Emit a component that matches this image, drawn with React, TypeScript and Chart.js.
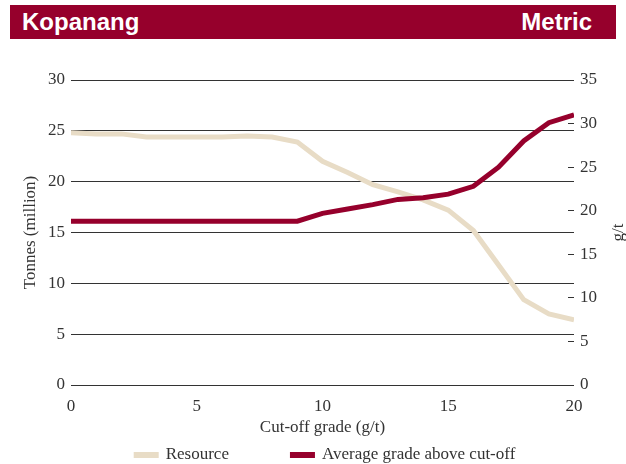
import React, { useEffect, useRef } from "react";
import { Chart, registerables } from "chart.js";

Chart.register(...registerables);

const cutOffGrades = [0, 1, 2, 3, 4, 5, 6, 7, 8, 9, 10, 11, 12, 13, 14, 15, 16, 17, 18, 19, 20];
const resourceMt = [24.8, 24.7, 24.7, 24.4, 24.4, 24.4, 24.4, 24.5, 24.4, 23.9, 22.0, 20.9, 19.7, 19.0, 18.2, 17.2, 15.2, 11.8, 8.4, 7.0, 6.4];
const avgGradeGt = [18.8, 18.8, 18.8, 18.8, 18.8, 18.8, 18.8, 18.8, 18.8, 18.8, 19.7, 20.2, 20.7, 21.3, 21.5, 21.9, 22.8, 25.0, 28.0, 30.1, 31.0];
const seriesLabels = ["Resource", "Average grade above cut-off"];
const seriesColors = ["#e8dcc6", "#96002c"];
const headerLeft = "Kopanang";
const headerRight = "Metric";
const xTitle = "Cut-off grade (g/t)";
const yTitle = "Tonnes (million)";
const y1Title = "g/t";
const xRange = [0, 20];
const yRange = [0, 30];
const y1Range = [0, 35];
const tickStep = 5;

const SERIF = "'Liberation Serif', 'Times New Roman', serif";
const TEXT = "#333333";
const GRID = "#333333";

const extrasPlugin = {
  id: "extras",
  afterDraw(chart: any) {
    const { ctx, chartArea } = chart;
    ctx.save();
    ctx.font = `17px ${SERIF}`;
    ctx.fillStyle = TEXT;
    // right axis title (reads bottom-to-top)
    ctx.save();
    ctx.translate(chart.scales.y1.right - 7, (chartArea.top + chartArea.bottom) / 2);
    ctx.rotate(-Math.PI / 2);
    ctx.textAlign = "center";
    ctx.textBaseline = "middle";
    ctx.fillText(y1Title, 0, 0);
    ctx.restore();
    // legend
    const ds = chart.data.datasets;
    const sw = 25;
    const textGap = 7;
    const itemGap = 61;
    const widths = ds.map((d: any) => sw + textGap + ctx.measureText(d.label).width);
    const total = widths.reduce((a: number, b: number) => a + b, 0) + itemGap * (ds.length - 1);
    let x = (chartArea.left + chartArea.right) / 2 + 2 - total / 2;
    const y = 455;
    ctx.textAlign = "left";
    ctx.textBaseline = "middle";
    ds.forEach((d: any, i: number) => {
      ctx.fillStyle = d.borderColor;
      ctx.fillRect(x, y - 3, sw, 6);
      ctx.fillStyle = TEXT;
      ctx.fillText(d.label, x + sw + textGap, y);
      x += widths[i] + itemGap;
    });
    ctx.restore();
  },
};

export default function App() {
  const ref = useRef<HTMLCanvasElement>(null);

  useEffect(() => {
    const font = { family: SERIF, size: 17 };
    const chart = new Chart(ref.current!, {
      type: "line",
      data: {
        datasets: [
          {
            label: seriesLabels[0],
            data: cutOffGrades.map((x, i) => ({ x, y: resourceMt[i] })),
            borderColor: seriesColors[0],
            backgroundColor: seriesColors[0],
            borderWidth: 5,
            pointRadius: 0,
            tension: 0,
            yAxisID: "y",
            order: 1,
          },
          {
            label: seriesLabels[1],
            data: cutOffGrades.map((x, i) => ({ x, y: avgGradeGt[i] })),
            borderColor: seriesColors[1],
            backgroundColor: seriesColors[1],
            borderWidth: 5,
            pointRadius: 0,
            tension: 0,
            yAxisID: "y1",
            order: 0,
          },
        ],
      },
      options: {
        animation: false,
        responsive: true,
        maintainAspectRatio: false,
        layout: { padding: { top: 80, left: 15, right: 0, bottom: 22 } },
        plugins: { legend: { display: false }, tooltip: { enabled: false } },
        scales: {
          x: {
            type: "linear",
            min: xRange[0],
            max: xRange[1],
            grid: { display: false },
            border: { display: false },
            ticks: { stepSize: tickStep, font, color: TEXT, padding: 3 },
            title: { display: true, text: xTitle, font, color: TEXT, padding: { top: 4, bottom: 4 } },
            afterFit: (s: any) => {
              s.height = 57;
            },
          },
          y: {
            type: "linear",
            position: "left",
            min: yRange[0],
            max: yRange[1],
            grid: { color: GRID, lineWidth: 1, drawTicks: false },
            border: { display: false },
            ticks: { stepSize: tickStep, font, color: TEXT, padding: 6 },
            title: { display: true, text: yTitle, font, color: TEXT, padding: { top: 5, bottom: 4 } },
            afterFit: (s: any) => {
              s.width = 56;
            },
          },
          y1: {
            type: "linear",
            position: "right",
            min: y1Range[0],
            max: y1Range[1],
            grid: { drawOnChartArea: false, drawTicks: true, tickLength: -6, tickColor: GRID, tickWidth: 1 },
            border: { display: false },
            ticks: { stepSize: tickStep, font, color: TEXT, padding: 12 },
            afterFit: (s: any) => {
              s.width = 52;
            },
          },
        },
      },
      plugins: [extrasPlugin],
    } as any);
    return () => chart.destroy();
  }, []);

  return (
    <div style={{ position: "absolute", left: 0, top: 0, width: 626, height: 464, overflow: "hidden", background: "#fff" }}>
      <div style={{ position: "absolute", left: 0, top: 0, width: 626, height: 464 }}>
        <canvas ref={ref} />
      </div>
      <div
        style={{
          position: "absolute",
          left: 10,
          top: 5,
          width: 606,
          height: 34,
          background: "#96002c",
          color: "#fff",
          fontFamily: "'Liberation Sans', Arial, sans-serif",
          fontWeight: "bold",
          fontSize: 24,
          lineHeight: "34px",
          display: "flex",
          justifyContent: "space-between",
          boxSizing: "border-box",
          paddingLeft: 12,
          paddingRight: 24,
        }}
      >
        <span>{headerLeft}</span>
        <span>{headerRight}</span>
      </div>
    </div>
  );
}
